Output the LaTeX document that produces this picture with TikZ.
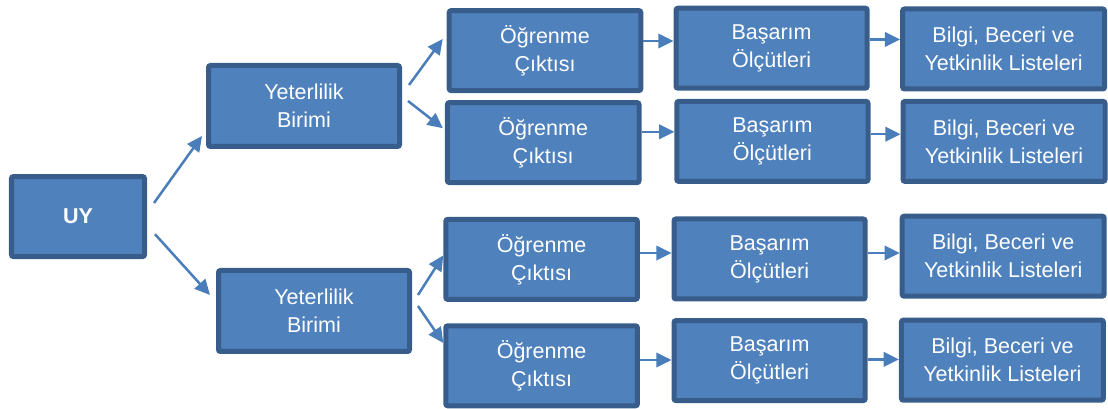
\documentclass[tikz,border=0pt]{standalone}
\usepackage{fontspec}
\setmainfont{Liberation Sans}
\usepackage{tikz}
\usetikzlibrary{arrows.meta}
\definecolor{boxfill}{HTML}{4F81BD}
\definecolor{boxline}{HTML}{385D8A}
\definecolor{arrowblue}{HTML}{4A7EBB}
\tikzset{box/.style = {draw = boxline, fill = boxfill, line width = 0.125cm, rounded corners = 0.05cm, text = white, align = center, inner sep = 0pt, minimum height = 2cm, font = \fontsize{15.3}{20}\selectfont}}
\tikzset{arr/.style = {draw = arrowblue, line width = 0.0625cm, -{Triangle[length = 0.38cm, width = 0.36cm]}}}

\begin{document}
\begin{tikzpicture}
    \useasboundingbox (0, 0) rectangle (27.7, 10.225);
    \node [box, minimum width = 3.325cm, font = \fontsize{15.3}{20}\selectfont\bfseries] (uy) at (1.95, 4.81) {UY};
    \foreach \x/\y/\i in {7.6/7.575/1, 7.85/2.45/2} {
        \node [box, minimum width = 4.775cm, minimum height = 2.025cm] (y\i) at (\x, \y) {Yeterlilik\\Birimi};
    }
    \foreach \x/\y/\i in {13.625/8.96/1, 13.58/6.66/2, 13.54/3.74/3, 13.54/1.08/4} {
        \node [box, minimum width = 4.79cm] (o\i) at (\x, \y) {Öğrenme\\Çıktısı};
    }
    \foreach \x/\y/\i in {19.29/9.02/1, 19.31/6.69/2, 19.24/3.75/3, 19.24/1.21/4} {
        \node [box, minimum width = 4.78cm] (b\i) at (\x, \y) {Başarım\\Ölçütleri};
    }
    \foreach \x/\y/\i in {25.09/9.0/1, 25.1/6.69/2, 25.08/3.82/3, 25.06/1.22/4} {
        \node [box, minimum width = 5.05cm] (l\i) at (\x, \y) {Bilgi, Beceri ve\\Yetkinlik Listeleri};
    }
    \draw [arr] ([shift = {(0.175, 0.34)}] uy.east) -- ([shift = {(-0.1, -0.75)}] y1.west);
    \draw [arr] ([shift = {(0.2, -0.44)}] uy.east) -- ([shift = {(-0.15, 0.4)}] y2.west);
    \draw [arr] ([shift = {(0.175, 0.525)}] y1.east) -- ([shift = {(-0.1, 0.29)}] o1.west);
    \draw [arr] ([shift = {(0.15, 0.125)}] y1.east) -- ([shift = {(-0.05, 0.36)}] o2.west);
    \draw [arr] ([shift = {(0.15, 0.4)}] y2.east) -- ([shift = {(0, 0.1)}] o3.west);
    \draw [arr] ([shift = {(0.15, 0.125)}] y2.east) -- ([shift = {(0, 0.57)}] o4.west);
    \foreach \a/\b/\s in {o1/b1/0.24, o2/b2/0.27, o3/b3/0.16, o4/b4/0.145, b1/l1/0.22, b2/l2/0.18, b3/l3/0.15, b4/l4/0.03} {
        \draw [arr] ([yshift = \s cm] \a.east) -- ([yshift = \s cm] \a.east -| \b.west);
    }
\end{tikzpicture}
\end{document}
